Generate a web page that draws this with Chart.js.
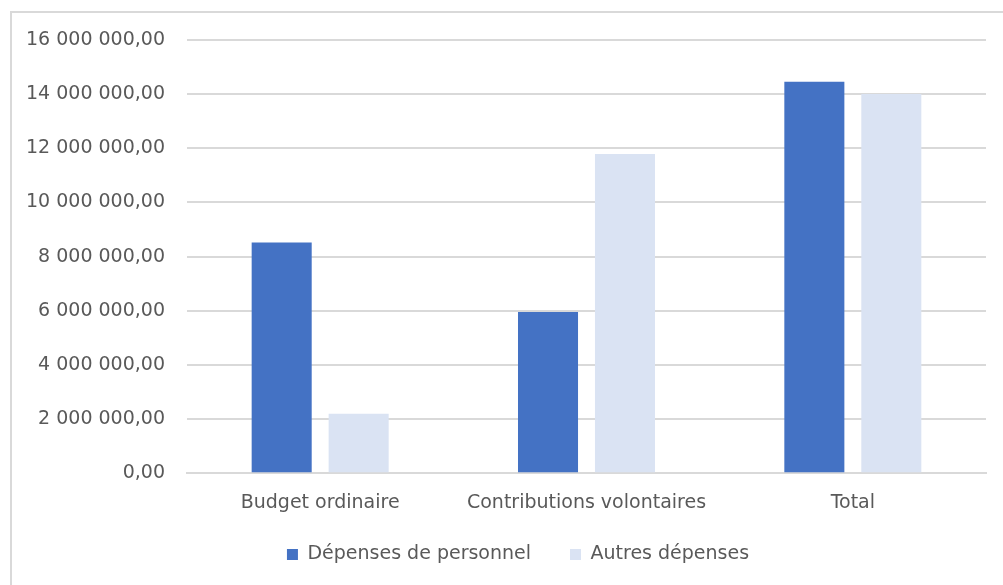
<!DOCTYPE html>
<html>
<head>
<meta charset="utf-8">
<script src="https://cdn.jsdelivr.net/npm/chart.js@4/dist/chart.umd.min.js"></script>
<style>
  html, body { margin: 0; padding: 0; background: #ffffff; }
  #wrap { position: relative; width: 1003px; height: 585px; overflow: hidden; }
  #frame { position: absolute; left: 10px; top: 11px; width: 1100px; height: 700px;
           border-top: 2px solid #d9d9d9; border-left: 2px solid #d9d9d9; }
  #c { position: absolute; left: 0; top: 0; }
</style>
</head>
<body>
<div id="wrap">
  <div id="frame"></div>
  <canvas id="c" width="1003" height="585"></canvas>
</div>
<script>
const categories = ["Budget ordinaire", "Contributions volontaires", "Total"];
const seriesNames = ["Dépenses de personnel", "Autres dépenses"];
const depensesPersonnel = [8520000, 5950000, 14460000];
const autresDepenses = [2200000, 11790000, 14010000];
const yTicks = [0, 2000000, 4000000, 6000000, 8000000, 10000000, 12000000, 14000000, 16000000];

function fmtFr(v) {
  const parts = Number(v).toFixed(2).split(".");
  const intPart = parts[0].replace(/\B(?=(\d{3})+(?!\d))/g, " ");
  return intPart + "," + parts[1];
}

const FONT = "'DejaVu Sans', sans-serif";
const TXT = "#595959";

const legendShift = {
  id: "legendShift",
  afterLayout(chart) {
    const l = chart.legend;
    if (l) { l.top -= 26; l.bottom -= 26; l.left += 25; l.right += 25; }
  }
};

new Chart(document.getElementById("c"), {
  type: "bar",
  data: {
    labels: categories,
    datasets: [
      { label: seriesNames[0], data: depensesPersonnel, backgroundColor: "#4472C4",
        categoryPercentage: 0.578, barPercentage: 0.78 },
      { label: seriesNames[1], data: autresDepenses, backgroundColor: "#DAE3F3",
        categoryPercentage: 0.578, barPercentage: 0.78 }
    ]
  },
  plugins: [legendShift],
  options: {
    responsive: false,
    animation: false,
    layout: { padding: { top: 40, right: 17, bottom: -15, left: 0 } },
    plugins: {
      legend: {
        position: "bottom",
        labels: {
          font: { family: FONT, size: 19 },
          color: TXT,
          boxWidth: 11,
          boxHeight: 11,
          padding: 39
        }
      },
      tooltip: { enabled: false }
    },
    scales: {
      x: {
        grid: { display: false, drawTicks: false },
        border: { display: true, color: "#d9d9d9", width: 2 },
        ticks: { font: { family: FONT, size: 19 }, color: TXT, padding: 18 }
      },
      y: {
        min: 0, max: 16000000,
        afterBuildTicks: (s) => { s.ticks = yTicks.map(v => ({ value: v })); },
        afterFit: (s) => { s.width = 187; },
        grid: { color: "#d9d9d9", lineWidth: 2, drawTicks: false },
        border: { display: false },
        ticks: {
          font: { family: FONT, size: 19 }, color: TXT, padding: 22,
          callback: (v) => fmtFr(v)
        }
      }
    }
  }
});
</script>
</body>
</html>
